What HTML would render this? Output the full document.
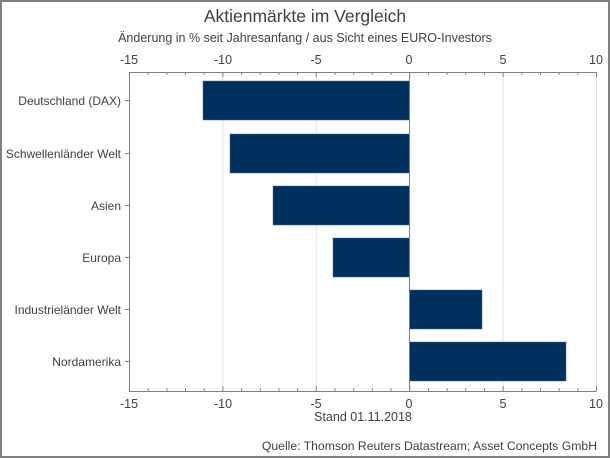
<!DOCTYPE html>
<html><head><meta charset="utf-8"><style>
body{margin:0;background:#fff}
svg{display:block}
text{font-family:"Liberation Sans",Arial,sans-serif;fill:#404040}
</style></head><body>
<svg width="610" height="458" xmlns="http://www.w3.org/2000/svg">
<rect x="1" y="1" width="608" height="456" fill="#fff" stroke="#7f7f7f" stroke-width="2"/>
<text x="305" y="22" font-size="17.5" text-anchor="middle">Aktienmärkte im Vergleich</text>
<text x="305" y="42" font-size="12.5" text-anchor="middle">Änderung in % seit Jahresanfang / aus Sicht eines EURO-Investors</text>
<g stroke="#e4e4e4" stroke-width="1">
<line x1="222.9" y1="72" x2="222.9" y2="391"/>
<line x1="316.3" y1="72" x2="316.3" y2="391"/>
<line x1="503.1" y1="72" x2="503.1" y2="391"/>
<line x1="596.5" y1="72" x2="596.5" y2="391"/>
</g>
<g fill="#00305e" stroke="#4a6a8a" stroke-width="0.5">
<rect x="203" y="81" width="206.5" height="39"/>
<rect x="230" y="134" width="179.5" height="39"/>
<rect x="273" y="186" width="136.5" height="39"/>
<rect x="333" y="238" width="76.5" height="39"/>
<rect x="409.5" y="290" width="72.5" height="39"/>
<rect x="409.5" y="342" width="156.5" height="39"/>
</g>
<g stroke="#808080" stroke-width="1">
<line x1="129" y1="72.5" x2="596.5" y2="72.5"/>
<line x1="129" y1="391.5" x2="596.5" y2="391.5"/>
<line x1="129.5" y1="72" x2="129.5" y2="391"/>
<line x1="409.5" y1="72" x2="409.5" y2="391"/>
</g>
<g stroke="#808080" stroke-width="1">
<path d="M129.5 72v5M148.2 72v3M166.9 72v3M185.5 72v3M204.2 72v3M222.9 72v5M241.6 72v3M260.3 72v3M278.9 72v3M297.6 72v3M316.3 72v5M335 72v3M353.7 72v3M372.3 72v3M391 72v3M409.7 72v5M428.4 72v3M447.1 72v3M465.7 72v3M484.4 72v3M503.1 72v5M521.8 72v3M540.5 72v3M559.1 72v3M577.8 72v3M596.5 72v5"/>
<path d="M129.5 391v-5M148.2 391v-3M166.9 391v-3M185.5 391v-3M204.2 391v-3M222.9 391v-5M241.6 391v-3M260.3 391v-3M278.9 391v-3M297.6 391v-3M316.3 391v-5M335 391v-3M353.7 391v-3M372.3 391v-3M391 391v-3M409.7 391v-5M428.4 391v-3M447.1 391v-3M465.7 391v-3M484.4 391v-3M503.1 391v-5M521.8 391v-3M540.5 391v-3M559.1 391v-3M577.8 391v-3M596.5 391v-5"/>
<path d="M125 100.5h4M125 153.5h4M125 205.5h4M125 257.5h4M125 309.5h4M125 361.5h4"/>
</g>
<g font-size="12.5" text-anchor="middle">
<text x="129" y="64">-15</text><text x="223" y="64">-10</text><text x="316" y="64">-5</text><text x="409" y="64">0</text><text x="503" y="64">5</text><text x="596" y="64">10</text>
<text x="129" y="408">-15</text><text x="223" y="408">-10</text><text x="316" y="408">-5</text><text x="409" y="408">0</text><text x="503" y="408">5</text><text x="596" y="408">10</text>
<text x="363" y="421">Stand 01.11.2018</text>
</g>
<g font-size="12" text-anchor="end">
<text x="121" y="105">Deutschland (DAX)</text>
<text x="121" y="158">Schwellenländer Welt</text>
<text x="121" y="210">Asien</text>
<text x="121" y="262">Europa</text>
<text x="121" y="314">Industrieländer Welt</text>
<text x="121" y="366">Nordamerika</text>
</g>
<text x="597" y="450" font-size="12.2" text-anchor="end">Quelle: Thomson Reuters Datastream; Asset Concepts GmbH</text>
</svg>
</body></html>
